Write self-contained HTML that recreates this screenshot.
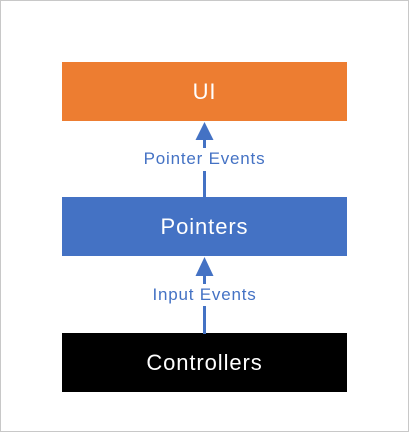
<!DOCTYPE html>
<html><head><style>
body{margin:0;width:409px;height:432px;background:#fff;position:relative;overflow:hidden;font-family:"Liberation Sans",sans-serif}
.frame{position:absolute;left:0;top:0;width:407px;height:430px;border:1px solid #c8c8c8}
.box{position:absolute;left:62px;width:285px;height:59px;color:#fff;font-size:22px;letter-spacing:0.9px;display:flex;align-items:center;justify-content:center}
.lbl{position:absolute;left:80px;width:249px;text-align:center;color:#4472c4;font-size:17px;letter-spacing:0.8px;line-height:20px}
</style></head><body>
<div class="frame"></div>
<div class="box" style="top:62px;background:#ed7d31">UI</div>
<div class="box" style="top:197px;background:#4472c4">Pointers</div>
<div class="box" style="top:333px;background:#000">Controllers</div>
<svg width="409" height="432" style="position:absolute;left:0;top:0">
<g fill="#4472c4" stroke="none">
<polygon points="204.5,122 195.5,140 213.5,140"/>
<rect x="203" y="139" width="3" height="9"/>
<rect x="203" y="171" width="3" height="27"/>
<polygon points="204.5,257 195.5,276 213.5,276"/>
<rect x="203" y="275" width="3" height="9"/>
<rect x="203" y="306" width="3" height="28"/>
</g></svg>
<div class="lbl" style="top:149px">Pointer Events</div>
<div class="lbl" style="top:285px">Input Events</div>
</body></html>
